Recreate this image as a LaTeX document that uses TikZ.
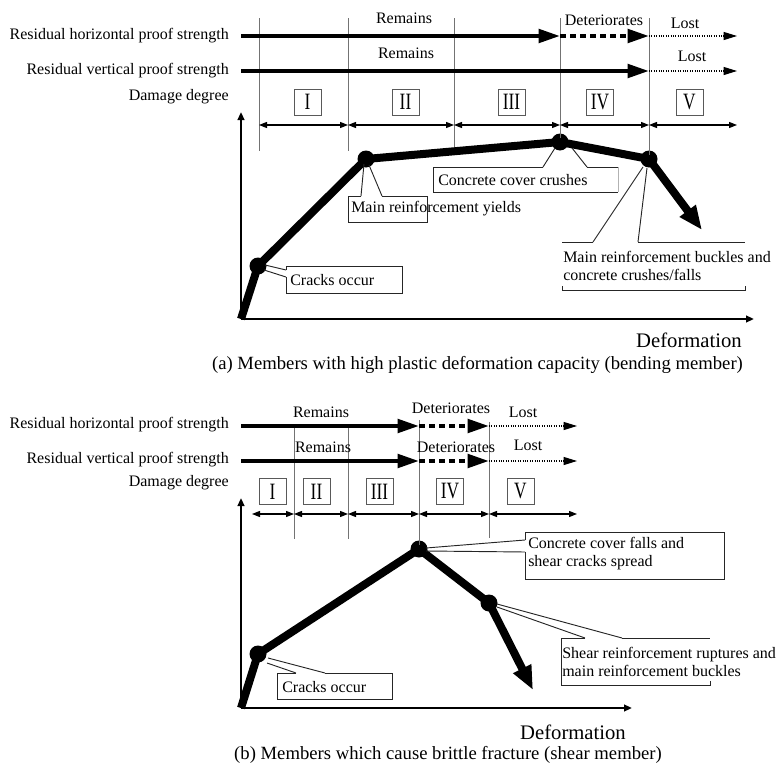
\documentclass[tikz,border=0pt]{standalone}
\usepackage{fontspec}
\setmainfont{Liberation Serif}
\usepackage{graphicx}
\usetikzlibrary{arrows.meta,calc}
\newcommand{\rn}[1]{\scalebox{1}[1.35]{\fontsize{13}{13}\selectfont #1}}
\begin{document}
\begin{tikzpicture}[x=0.75pt,y=-0.75pt,
  lab/.style={font=\fontsize{12}{13.5}\selectfont, inner sep=0pt, align=left},
  bigtext/.style={font=\fontsize{15.5}{17}\selectfont, inner sep=0pt},
  captext/.style={font=\fontsize{14}{16}\selectfont, inner sep=0pt},
  sepline/.style={draw=black!55, line width=0.7pt},
  frame/.style={draw=black!85, line width=0.7pt},
  numbox/.style={draw=black!65, line width=0.7pt, minimum width=20.25pt, minimum height=19.5pt, inner sep=0pt},
  solidarr/.style={line width=3pt, -{Triangle[length=16pt,width=10pt]}},
  dasharr/.style={line width=3pt, dash pattern=on 4.5pt off 3pt, -{Triangle[length=16pt,width=10pt]}},
  lostarr/.style={line width=0.8pt, densely dotted, -{Triangle[length=10pt,width=6pt]}},
  dimarr/.style={line width=0.9pt, {Triangle[length=6pt,width=4.5pt]}-{Triangle[length=6pt,width=4.5pt]}},
  axisarr/.style={line width=1.6pt, -{Triangle[length=6pt,width=5pt]}},
  curveline/.style={line width=6pt, line join=round},
  knot/.style={circle, fill=black, inner sep=0pt, minimum size=12.75pt}]
\useasboundingbox (0,0) rectangle (776,771);

% ================= (a) bending member =================
% row labels
\node[lab, anchor=east] (aH) at (229,36) {Residual horizontal proof strength};
\node[lab, anchor=east] (aV) at (229,71) {Residual vertical proof strength};
\node[lab, anchor=east] (aD) at (229,97) {Damage degree};

% stage boundaries
\coordinate (aS1t) at (259,18); \coordinate (aS1b) at (259,151);
\coordinate (aS2t) at (348,18); \coordinate (aS2b) at (348,151);
\coordinate (aS3t) at (454,18); \coordinate (aS3b) at (454,147);
\coordinate (aS4t) at (560,18);
\coordinate (aS5t) at (649,18);

% load-deformation knots
\coordinate (aO) at (241,319);
\coordinate (aY) at (241,112);
\coordinate (aX) at (754,319);
\node[knot] (a1) at (258,266) {};
\node[knot] (a2) at (366,159) {};
\node[knot] (a3) at (560,142) {};
\node[knot] (a4) at (649,159) {};
\coordinate (aT) at (702,230);

\draw[sepline] (aS1t) -- (aS1b);
\draw[sepline] (aS2t) -- (aS2b);
\draw[sepline] (aS3t) -- (aS3b);
\draw[sepline] (aS4t) -- (a3.center);
\draw[sepline] (aS5t) -- (a4.center);

% proof strength rows
\coordinate (aR1s) at (241,36); \coordinate (aR1b) at (560,36);
\coordinate (aR1c) at (649,36); \coordinate (aR1e) at (737,36);
\coordinate (aR2s) at (241,71); \coordinate (aR2c) at (649,71);
\coordinate (aR2e) at (737,71);
\draw[solidarr] (aR1s) -- (aR1b);
\draw[dasharr] (aR1b) -- (aR1c);
\draw[lostarr] (aR1c) -- (aR1e);
\draw[solidarr] (aR2s) -- (aR2c);
\draw[lostarr] (aR2c) -- (aR2e);
\node[lab] (aRem1) at (404,18) {Remains};
\node[lab] (aRem2) at (406,53) {Remains};
\node[lab] (aDet1) at (604,20) {Deteriorates};
\node[lab] (aLost1) at (685,23) {Lost};
\node[lab] (aLost2) at (692,56) {Lost};

% damage degree stages
\node[numbox] (aN1) at (307.5,102) {\rn{I}};
\node[numbox] (aN2) at (405.5,102) {\rn{II}};
\node[numbox] (aN3) at (511.5,102) {\rn{III}};
\node[numbox] (aN4) at (600,102) {\rn{IV}};
\node[numbox] (aN5) at (689.5,102) {\rn{V}};
\coordinate (aD0) at (259,125); \coordinate (aD1) at (348,125);
\coordinate (aD2) at (454,125); \coordinate (aD3) at (560,125);
\coordinate (aD4) at (649,125); \coordinate (aD5) at (737,125);
\draw[dimarr] (aD0) -- (aD1);
\draw[dimarr] (aD1) -- (aD2);
\draw[dimarr] (aD2) -- (aD3);
\draw[dimarr] (aD3) -- (aD4);
\draw[dimarr] (aD4) -- (aD5);

% axes
\draw[axisarr] (aO) -- (aY);
\draw[axisarr] (aO) -- (aX);

% skeleton curve
\draw[curveline, -{Triangle[length=18pt,width=14pt]}]
  (aO) -- (a1.center) -- (a2.center) -- (a3.center) -- (a4.center) -- (aT);

% callouts
\draw[frame] (286,270) -- (286,266) -- (402,266) -- (402,293) -- (286,293) -- (286,277);
\draw[frame] (286,270) -- ($(a1)+(7,-1)$);
\draw[frame] (286,277) -- ($(a1)+(6,4)$);
\node[lab, anchor=west] (aC1) at (290,280) {Cracks occur};

\draw[frame] (361,196) -- (348,196) -- (348,222) -- (427,222) -- (427,196) -- (382,196);
\draw[frame] (361,196) -- ($(a2)+(-2,5)$);
\draw[frame] (382,196) -- ($(a2)+(3,6)$);
\node[lab, anchor=west] (aC2) at (351,209) {Main reinforcement yields};

\draw[frame] (543,167) -- (433,167) -- (433,192) -- (618,192);
\draw[frame] (587,167) -- (618,167);
\draw[frame, draw=black!30] (618,167) -- (618,192);
\draw[frame] (543,167) -- ($(a3)+(-5,6)$);
\draw[frame] (587,167) -- ($(a3)+(12,6)$);
\node[lab, anchor=west] (aC3) at (438,180) {Concrete cover crushes};

\draw[frame] (562,242) -- (593,242);
\draw[frame] (638,242) -- (745,242);
\draw[frame] (562,286) -- (562,290) -- (745,290) -- (745,286);
\draw[frame] (593,242) -- ($(a4)+(-6,8)$);
\draw[frame] (638,242) -- ($(a4)+(-2,9)$);
\node[lab, anchor=west] (aC4) at (563,266) {Main reinforcement buckles and\\concrete crushes/falls};

\node[bigtext] (aDef) at (689,340) {Deformation};
\node[captext] (aCap) at (477.5,365) {(a) Members with high plastic deformation capacity (bending member)};

% ================= (b) shear member =================
\node[lab, anchor=east] (bH) at (229,425) {Residual horizontal proof strength};
\node[lab, anchor=east] (bV) at (229,460) {Residual vertical proof strength};
\node[lab, anchor=east] (bD) at (229,483) {Damage degree};

\coordinate (bS1t) at (294,426); \coordinate (bS1b) at (294,539);
\coordinate (bS2t) at (348,426); \coordinate (bS2b) at (348,539);
\coordinate (bS3t) at (419,420);
\coordinate (bS4t) at (489,422); \coordinate (bS4b) at (489,538);

\coordinate (bO) at (241,708);
\coordinate (bY) at (241,498);
\coordinate (bX) at (632,708);
\node[knot] (b1) at (258,654) {};
\node[knot] (b3) at (419,549) {};
\node[knot] (b4) at (489,603) {};
\coordinate (bT) at (533,690);

\draw[sepline] (bS1t) -- (bS1b);
\draw[sepline] (bS2t) -- (bS2b);
\draw[sepline] (bS3t) -- (b3.center);
\draw[sepline] (bS4t) -- (bS4b);

\coordinate (bR1s) at (241,426); \coordinate (bR1b) at (419,426);
\coordinate (bR1c) at (489,426); \coordinate (bR1e) at (577,426);
\coordinate (bR2s) at (241,461); \coordinate (bR2b) at (419,461);
\coordinate (bR2c) at (489,461); \coordinate (bR2e) at (577,461);
\draw[solidarr] (bR1s) -- (bR1b);
\draw[dasharr] (bR1b) -- (bR1c);
\draw[lostarr] (bR1c) -- (bR1e);
\draw[solidarr] (bR2s) -- (bR2b);
\draw[dasharr] (bR2b) -- (bR2c);
\draw[lostarr] (bR2c) -- (bR2e);
\node[lab] (bRem1) at (321,412) {Remains};
\node[lab] (bRem2) at (323,447) {Remains};
\node[lab] (bDet1) at (451,408) {Deteriorates};
\node[lab] (bDet2) at (456,447) {Deteriorates};
\node[lab] (bLost1) at (523,412) {Lost};
\node[lab] (bLost2) at (528,445) {Lost};

\node[numbox] (bN1) at (272.5,491.5) {\rn{I}};
\node[numbox] (bN2) at (316.5,491.5) {\rn{II}};
\node[numbox] (bN3) at (379.5,491.5) {\rn{III}};
\node[numbox] (bN4) at (450,491.5) {\rn{IV}};
\node[numbox] (bN5) at (520.5,491.5) {\rn{V}};
\coordinate (bD0) at (252,514); \coordinate (bD1) at (294,514);
\coordinate (bD2) at (348,514); \coordinate (bD3) at (419,514);
\coordinate (bD4) at (489,514); \coordinate (bD5) at (577,514);
\draw[dimarr] (bD0) -- (bD1);
\draw[dimarr] (bD1) -- (bD2);
\draw[dimarr] (bD2) -- (bD3);
\draw[dimarr] (bD3) -- (bD4);
\draw[dimarr] (bD4) -- (bD5);

\draw[axisarr] (bO) -- (bY);
\draw[axisarr] (bO) -- (bX);

\draw[curveline, -{Triangle[length=18pt,width=14pt]}]
  (bO) -- (b1.center) -- (b3.center) -- (b4.center) -- (bT);

\draw[frame] (296,673) -- (277,673) -- (277,699) -- (392,699) -- (392,673) -- (325,673);
\draw[frame] (296,673) -- ($(b1)+(9,9)$);
\draw[frame] (325,673) -- ($(b1)+(10,4)$);
\node[lab, anchor=west] (bC1) at (282,687) {Cracks occur};

\draw[frame] (525,540) -- (525,532) -- (724,532) -- (724,579) -- (525,579) -- (525,552);
\draw[frame] (525,540) -- ($(b3)+(7,-1)$);
\draw[frame] (525,552) -- ($(b3)+(7,2)$);
\node[lab, anchor=west] (bC2) at (528,554) {Concrete cover falls and\\shear cracks spread};

\draw[frame] (585,638) -- (561,638) -- (561,685) -- (710,685) -- (710,681);
\draw[frame] (622,638) -- (710,638);
\draw[frame] (585,638) -- ($(b4)+(8,4)$);
\draw[frame] (622,638) -- ($(b4)+(8,1)$);
\node[lab, anchor=west] (bC3) at (562,661.5) {Shear reinforcement ruptures and\\main reinforcement buckles};

\node[bigtext] (bDef) at (573,732) {Deformation};
\node[captext] (bCap) at (448,755) {(b) Members which cause brittle fracture (shear member)};
\end{tikzpicture}
\end{document}
